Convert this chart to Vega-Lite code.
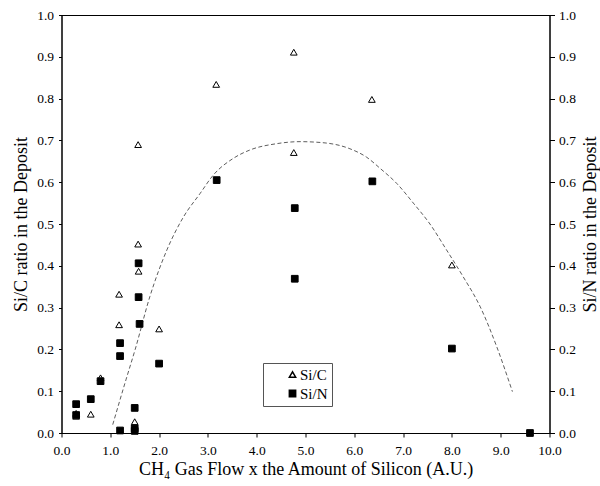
{
  "$schema": "https://vega.github.io/schema/vega-lite/v6.json",
  "width": 488,
  "height": 418,
  "autosize": "none",
  "padding": {"left": 61.5, "top": 15, "right": 50.5, "bottom": 53},
  "background": "white",
  "view": {"stroke": "black", "strokeWidth": 1},
  "config": {
    "font": "Liberation Serif, Times New Roman, serif",
    "axis": {
      "labelFont": "Liberation Serif, Times New Roman, serif",
      "labelFontSize": 13.5,
      "labelColor": "black",
      "labelFlush": false,
      "titleFont": "Liberation Serif, Times New Roman, serif",
      "titleFontSize": 18,
      "titleFontWeight": "normal",
      "titleColor": "black",
      "domainColor": "black",
      "tickColor": "black",
      "grid": false
    },
    "legend": {
      "labelFont": "Liberation Serif, Times New Roman, serif",
      "labelFontSize": 15,
      "labelColor": "black",
      "strokeColor": "#555555",
      "fillColor": "white",
      "strokeWidth": 1,
      "padding": 4,
      "rowPadding": 3
    }
  },
  "datasets": {
    "points": [
      {"x": 0.3, "value": 0.047, "series": "Si/C"},
      {"x": 0.3, "value": 0.04, "series": "Si/C"},
      {"x": 0.6, "value": 0.045, "series": "Si/C"},
      {"x": 0.8, "value": 0.132, "series": "Si/C"},
      {"x": 1.18, "value": 0.332, "series": "Si/C"},
      {"x": 1.18, "value": 0.259, "series": "Si/C"},
      {"x": 1.57, "value": 0.69, "series": "Si/C"},
      {"x": 1.57, "value": 0.452, "series": "Si/C"},
      {"x": 1.58, "value": 0.387, "series": "Si/C"},
      {"x": 1.5, "value": 0.027, "series": "Si/C"},
      {"x": 2.0, "value": 0.249, "series": "Si/C"},
      {"x": 3.17, "value": 0.834, "series": "Si/C"},
      {"x": 4.76, "value": 0.911, "series": "Si/C"},
      {"x": 4.76, "value": 0.671, "series": "Si/C"},
      {"x": 6.36, "value": 0.798, "series": "Si/C"},
      {"x": 8.0, "value": 0.402, "series": "Si/C"},
      {"x": 0.3, "value": 0.069, "series": "Si/N"},
      {"x": 0.3, "value": 0.043, "series": "Si/N"},
      {"x": 0.6, "value": 0.081, "series": "Si/N"},
      {"x": 0.8, "value": 0.124, "series": "Si/N"},
      {"x": 1.2, "value": 0.215, "series": "Si/N"},
      {"x": 1.2, "value": 0.184, "series": "Si/N"},
      {"x": 1.2, "value": 0.006, "series": "Si/N"},
      {"x": 1.58, "value": 0.406, "series": "Si/N"},
      {"x": 1.58, "value": 0.325, "series": "Si/N"},
      {"x": 1.6, "value": 0.261, "series": "Si/N"},
      {"x": 1.5, "value": 0.06, "series": "Si/N"},
      {"x": 1.5, "value": 0.011, "series": "Si/N"},
      {"x": 1.5, "value": 0.005, "series": "Si/N"},
      {"x": 2.0, "value": 0.166, "series": "Si/N"},
      {"x": 3.18, "value": 0.605, "series": "Si/N"},
      {"x": 4.78, "value": 0.538, "series": "Si/N"},
      {"x": 4.78, "value": 0.369, "series": "Si/N"},
      {"x": 6.37, "value": 0.602, "series": "Si/N"},
      {"x": 8.0, "value": 0.202, "series": "Si/N"},
      {"x": 9.6, "value": 0.0, "series": "Si/N"}
    ],
    "curve": [
      {"x": 1.05, "y": 0.02},
      {"x": 1.32, "y": 0.127},
      {"x": 1.51, "y": 0.2},
      {"x": 1.81, "y": 0.326},
      {"x": 2.16, "y": 0.438},
      {"x": 2.5, "y": 0.517},
      {"x": 2.84, "y": 0.573},
      {"x": 3.11, "y": 0.617},
      {"x": 3.52, "y": 0.657},
      {"x": 3.86, "y": 0.677},
      {"x": 4.4, "y": 0.692},
      {"x": 4.89, "y": 0.697},
      {"x": 5.4, "y": 0.694},
      {"x": 5.91, "y": 0.68},
      {"x": 6.25, "y": 0.66},
      {"x": 6.53, "y": 0.633},
      {"x": 6.87, "y": 0.597},
      {"x": 7.21, "y": 0.55},
      {"x": 7.55, "y": 0.5},
      {"x": 7.89, "y": 0.438},
      {"x": 8.23, "y": 0.374},
      {"x": 8.58, "y": 0.302},
      {"x": 8.92, "y": 0.206},
      {"x": 9.24, "y": 0.099}
    ]
  },
  "layer": [
    {
      "data": {"name": "curve"},
      "mark": {"type": "line", "stroke": "#333333", "strokeWidth": 0.8, "strokeDash": [4, 2.5], "interpolate": "monotone"},
      "encoding": {
        "x": {
          "field": "x", "type": "quantitative",
          "scale": {"domain": [0, 10], "nice": false},
          "axis": {
            "title": "CH₄ Gas Flow x the Amount of Silicon (A.U.)",
            "values": [0, 1, 2, 3, 4, 5, 6, 7, 8, 9, 10],
            "format": ".1f",
            "tickSize": 4,
            "labelPadding": 6,
            "titlePadding": 4
          }
        },
        "y": {
          "field": "y", "type": "quantitative",
          "scale": {"domain": [0, 1], "nice": false},
          "axis": {
            "orient": "left",
            "title": "Si/C ratio in the Deposit",
            "values": [0, 0.1, 0.2, 0.3, 0.4, 0.5, 0.6, 0.7, 0.8, 0.9, 1.0],
            "format": ".1f",
            "tickSize": 3,
            "labelPadding": 5,
            "titlePadding": 6
          }
        }
      }
    },
    {
      "data": {"name": "points"},
      "mark": {"type": "point", "filled": true, "stroke": "black", "strokeWidth": 1, "size": 45, "opacity": 1},
      "encoding": {
        "x": {"field": "x", "type": "quantitative", "scale": {"domain": [0, 10], "nice": false}},
        "y": {
          "field": "value", "type": "quantitative",
          "scale": {"domain": [0, 1], "nice": false},
          "axis": {
            "orient": "right",
            "title": "Si/N ratio in the Deposit",
            "titleAngle": 270,
            "values": [0, 0.1, 0.2, 0.3, 0.4, 0.5, 0.6, 0.7, 0.8, 0.9, 1.0],
            "format": ".1f",
            "tickSize": 5,
            "labelPadding": 4,
            "titlePadding": 24
          }
        },
        "shape": {
          "field": "series", "type": "nominal",
          "scale": {"domain": ["Si/C", "Si/N"], "range": ["triangle-up", "square"]},
          "legend": {
            "title": null,
            "orient": "none",
            "legendX": 201.5,
            "legendY": 348,
            "strokeColor": "#555555",
            "fillColor": "white",
            "padding": 4,
            "rowPadding": 3,
            "symbolOffset": 18,
            "labelOffset": 0,
            "symbolSize": 40,
            "labelExpr": "datum.label + '\u2003\u2002'",
            "encode": {
              "symbols": {"update": {"stroke": {"value": "black"}, "strokeWidth": {"value": 1}}}
            }
          }
        },
        "fill": {
          "field": "series", "type": "nominal",
          "scale": {"domain": ["Si/C", "Si/N"], "range": ["white", "black"]},
          "legend": {
            "title": null,
            "orient": "none",
            "legendX": 201.5,
            "legendY": 348,
            "strokeColor": "#555555",
            "fillColor": "white",
            "padding": 4,
            "rowPadding": 3,
            "symbolOffset": 18,
            "labelOffset": 0,
            "symbolSize": 40,
            "labelExpr": "datum.label + '\u2003\u2002'",
            "encode": {
              "symbols": {"update": {"stroke": {"value": "black"}, "strokeWidth": {"value": 1}}}
            }
          }
        }
      }
    }
  ],
  "resolve": {"scale": {"y": "independent"}}
}
